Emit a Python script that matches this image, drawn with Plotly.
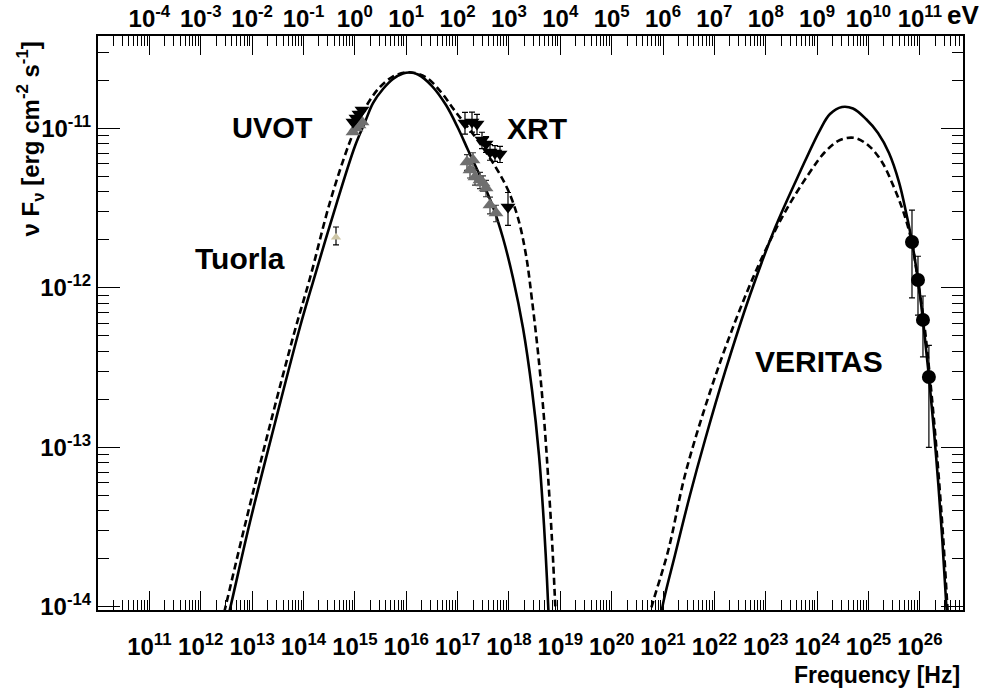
import plotly.graph_objects as go

# ---------------- data ----------------
# Synchrotron model, solid
sync_solid_f = [2.27e12, 3.71e12, 9.10e12, 2.79e13, 8.56e13, 1.533e14, 4.497e14, 1.008e15,
                1.578e15, 2.258e15, 3.535e15, 5.536e15, 8.666e15, 1.186e16, 1.698e16, 3.180e16,
                5.956e16, 1.020e17, 1.597e17, 2.735e17, 4.897e17, 7.664e17, 1.200e18, 1.879e18,
                2.813e18, 3.849e18, 4.816e18, 5.510e18, 6.302e18]
sync_solid_s = [4.98e-15, 9.69e-15, 3.402e-14, 1.421e-13, 5.687e-13, 1.089e-12, 3.457e-12, 7.765e-12,
                1.098e-11, 1.444e-11, 1.768e-11, 2.043e-11, 2.212e-11, 2.244e-11, 2.180e-11, 1.846e-11,
                1.403e-11, 1.007e-11, 7.328e-12, 5.033e-12, 3.218e-12, 2.056e-12, 1.154e-12, 5.606e-13,
                2.289e-13, 8.954e-14, 3.258e-14, 1.472e-14, 5.759e-15]
# Synchrotron model, dashed
sync_dash_f = [1.813e12, 2.968e12, 7.275e12, 2.231e13, 6.843e13, 1.341e14, 3.286e14, 7.699e14,
               1.261e15, 1.974e15, 3.090e15, 5.293e15, 9.478e15, 1.484e16, 2.541e16, 4.760e16,
               8.913e16, 2.285e17, 5.355e17, 9.592e17, 1.502e18, 2.149e18, 2.813e18, 3.849e18,
               4.816e18, 5.762e18, 6.894e18, 7.885e18, 8.626e18]
sync_dash_s = [4.98e-15, 9.69e-15, 3.258e-14, 1.381e-13, 5.445e-13, 1.154e-12, 3.457e-12, 7.991e-12,
               1.163e-11, 1.509e-11, 1.820e-11, 2.102e-11, 2.244e-11, 2.228e-11, 2.073e-11, 1.693e-11,
               1.287e-11, 8.716e-12, 5.817e-12, 4.112e-12, 2.745e-12, 1.608e-12, 8.400e-13, 3.430e-13,
               1.528e-13, 6.708e-14, 2.624e-14, 1.103e-14, 5.358e-15]
# Inverse-Compton model, solid
ic_solid_f = [7.63e20, 9.55e20, 1.711e21, 3.351e21, 6.565e21, 1.609e22, 4.934e22, 1.513e23, 4.639e23,
              1.137e24, 1.781e24, 3.050e24, 4.994e24, 8.942e24, 1.531e25, 2.507e25, 3.925e25, 5.373e25,
              7.029e25, 9.199e25, 1.151e26, 1.507e26, 2.062e26, 2.698e26, 3.228e26, 3.693e26]
ic_solid_s = [5.358e-15, 9.69e-15, 2.112e-14, 5.025e-14, 1.112e-13, 2.970e-13, 9.028e-13, 2.375e-12,
              5.333e-12, 9.780e-12, 1.232e-11, 1.364e-11, 1.334e-11, 1.146e-11, 9.367e-12, 7.017e-12,
              4.615e-12, 2.992e-12, 1.941e-12, 1.121e-12, 6.291e-13, 2.762e-13, 8.954e-14, 2.820e-14,
              1.103e-14, 5.358e-15]
# Inverse-Compton model, dashed
ic_dash_f = [3.725e20, 5.833e20, 1.270e21, 2.679e21, 8.211e21, 2.518e22, 7.724e22, 2.369e23, 7.264e23,
             1.423e24, 2.789e24, 5.462e24, 1.023e25, 1.832e25, 3.000e25, 4.293e25, 5.373e25, 7.029e25,
             9.199e25, 1.204e26, 1.575e26, 2.156e26, 2.822e26, 3.376e26, 3.861e26]
ic_dash_s = [5.358e-15, 9.69e-15, 2.270e-14, 6.708e-14, 2.224e-13, 6.111e-13, 1.454e-12, 2.992e-12,
             5.333e-12, 7.119e-12, 8.467e-12, 8.716e-12, 7.765e-12, 6.163e-12, 4.419e-12, 3.311e-12,
             2.667e-12, 1.913e-12, 1.105e-12, 6.111e-13, 2.723e-13, 8.954e-14, 2.820e-14, 1.103e-14,
             5.358e-15]

# UVOT
uvot_f = [9.21e14, 1.054e15, 1.205e15, 1.379e15]
uvot_high_s = [1.098e-11, 1.163e-11, 1.232e-11, 1.305e-11]
uvot_low_s = [9.504e-12, 1.007e-11, 1.051e-11, 1.098e-11]
# XRT
xrt_high_f = [1.395e17, 1.910e17, 2.390e17, 2.991e17, 3.578e17, 4.281e17, 5.355e17, 6.701e17, 9.592e17]
xrt_high_s = [1.082e-11, 1.098e-11, 1.067e-11, 8.467e-12, 7.991e-12, 7.119e-12, 7.017e-12, 6.916e-12, 3.218e-12]
xrt_high_ep = [1.8e-12, 1.7e-12, 1.6e-12, 1.0e-12, 0.9e-12, 0.8e-12, 0.8e-12, 0.8e-12, 0.75e-12]
xrt_high_em = [1.6e-12, 1.5e-12, 1.5e-12, 1.0e-12, 0.9e-12, 0.8e-12, 0.8e-12, 0.8e-12, 0.75e-12]
xrt_low_f = [1.526e17, 1.997e17, 1.747e17, 2.185e17, 2.735e17, 3.128e17, 3.578e17, 4.281e17, 5.600e17]
xrt_low_s = [6.163e-12, 6.344e-12, 5.490e-12, 4.961e-12, 4.750e-12, 4.549e-12, 4.232e-12, 3.311e-12, 2.951e-12]
xrt_low_err = [0.7e-12, 0.7e-12, 0.6e-12, 0.55e-12, 0.55e-12, 0.5e-12, 0.5e-12, 0.4e-12, 0.35e-12]
# Tuorla
tuorla_f = [4.30e14]
tuorla_s = [2.08e-12]
tuorla_ep = [0.33e-12]
tuorla_em = [0.22e-12]
# VERITAS
ver_f = [7.03e25, 9.20e25, 1.15e26, 1.50e26]
ver_s = [1.94e-12, 1.12e-12, 6.30e-13, 2.76e-13]
ver_ep = [1.14e-12, 0.46e-12, 0.26e-12, 0.16e-12]
ver_em = [1.075e-12, 0.444e-12, 0.261e-12, 0.176e-12]

# tick labels
x_exps = list(range(11, 27))
x_labels = ["10<sup>%d</sup>" % e for e in x_exps]
ev_labels = ["10<sup>%d</sup>" % e for e in range(-4, 12)]
y_exps = [-14, -13, -12, -11]
y_labels = ["10<sup>%d</sup>" % e for e in y_exps]

# ---------------- figure ----------------
FONT = "Liberation Sans, Arial, Helvetica, sans-serif"
fig = go.Figure()

def model(xs, ys, dash):
    fig.add_trace(go.Scatter(x=xs, y=ys, mode="lines", showlegend=False, hoverinfo="skip",
                             line=dict(color="black", width=2.6, dash=dash, shape="spline", smoothing=1.0)))

model(sync_dash_f, sync_dash_s, "7px,4px")
model(ic_dash_f, ic_dash_s, "7px,4px")
model(sync_solid_f, sync_solid_s, "solid")
model(ic_solid_f, ic_solid_s, "solid")

def pts(xs, ys, symbol, color, size, ep=None, em=None, ecolor="black", frac=None):
    if ep is None and frac is not None:
        ep = [v * frac for v in ys]
        em = ep
    err = None
    if ep is not None:
        err = dict(type="data", symmetric=False, array=ep, arrayminus=em,
                   color=ecolor, thickness=1.2, width=3)
    fig.add_trace(go.Scatter(x=xs, y=ys, mode="markers", showlegend=False, error_y=err,
                             marker=dict(symbol=symbol, color=color, size=size, line=dict(width=0))))

pts(xrt_low_f, xrt_low_s, "triangle-up", "#6f6f6f", 13, xrt_low_err, xrt_low_err, ecolor="#333333")
pts(xrt_high_f, xrt_high_s, "triangle-down", "black", 13, xrt_high_ep, xrt_high_em)
pts(uvot_f, uvot_low_s, "triangle-up", "#6f6f6f", 13, frac=0.03, ecolor="#333333")
pts(uvot_f, uvot_high_s, "triangle-down", "black", 13, frac=0.03)
pts(tuorla_f, tuorla_s, "triangle-up", "#cdc6a6", 9, tuorla_ep, tuorla_em)
pts(ver_f, ver_s, "circle", "black", 14, ver_ep, ver_em)

# dummy trace to activate the top/right mirror axes
fig.add_trace(go.Scatter(x=ver_f, y=ver_s, xaxis="x2", yaxis="y2", mode="markers",
                         marker=dict(opacity=0), hoverinfo="skip", showlegend=False))

xmin, xmax = 10.0, 26.84
ymin, ymax = -14.02, -10.42
x_minor = [k * 10.0 ** n for n in range(10, 27) for k in range(2, 10)]
y_minor = [k * 10.0 ** n for n in range(-15, -10) for k in range(2, 10)]
x_major = [10.0 ** e for e in x_exps]
y_major = [10.0 ** e for e in y_exps]

tickfont = dict(family=FONT, size=24, color="black", weight="bold")
common_x = dict(type="log", range=[xmin, xmax], showgrid=False, zeroline=False, automargin=False,
                ticks="inside", ticklen=19, tickwidth=1.3, tickcolor="black",
                showline=True, linewidth=2, linecolor="black",
                tickmode="array", tickvals=x_major,
                minor=dict(tickmode="array", tickvals=x_minor, ticks="inside", ticklen=10,
                           tickwidth=1.1, tickcolor="black", showgrid=False))
common_y = dict(type="log", range=[ymin, ymax], showgrid=False, zeroline=False, automargin=False,
                ticks="inside", ticklen=22, tickwidth=1.3, tickcolor="black",
                showline=True, linewidth=2, linecolor="black",
                tickmode="array", tickvals=y_major,
                minor=dict(tickmode="array", tickvals=y_minor, ticks="inside", ticklen=11,
                           tickwidth=1.1, tickcolor="black", showgrid=False))

fig.update_layout(
    width=984, height=690,
    margin=dict(l=98, r=21, t=36, b=80, autoexpand=False),
    paper_bgcolor="white", plot_bgcolor="white",
    font=dict(family=FONT, color="black"),
    xaxis=dict(**common_x, ticktext=x_labels, tickfont=tickfont, side="bottom", ticklabelstandoff=14),
    xaxis2=dict(**common_x, ticktext=ev_labels, tickfont=tickfont, side="top",
                overlaying="x", anchor="y", ticklabelstandoff=-3),
    yaxis=dict(**common_y, ticktext=y_labels, tickfont=tickfont, side="left", ticklabelstandoff=0),
    yaxis2=dict(**common_y, ticktext=y_labels, showticklabels=False, side="right",
                overlaying="y", anchor="x"),
)

def label(text, x, y, size, xanchor="center", yanchor="middle", angle=0):
    fig.add_annotation(text=text, x=x, y=y, xref="paper", yref="paper", showarrow=False,
                       xanchor=xanchor, yanchor=yanchor, textangle=angle,
                       font=dict(family=FONT, size=size, color="black", weight="bold"))

label("UVOT", 0.2012, 0.8397, 29)
label("XRT", 0.5075, 0.8397, 30)
label("Tuorla", 0.1642, 0.6132, 30)
label("VERITAS", 0.8335, 0.4321, 30)
label("eV", 1.0, 1.0366, 26)
label("Frequency [Hz]", 0.9988, -0.1132, 23, xanchor="right")
label("\u03bd F<sub>\u03bd</sub> [erg cm<sup>-2</sup> s<sup>-1</sup>]", -0.0786, 0.993, 24,
      yanchor="top", angle=-90)

fig.write_html("out.html", config={"displayModeBar": False},
               post_script="document.body.style.margin='0';document.body.style.padding='0';"
                           "document.documentElement.style.overflow='hidden';")
